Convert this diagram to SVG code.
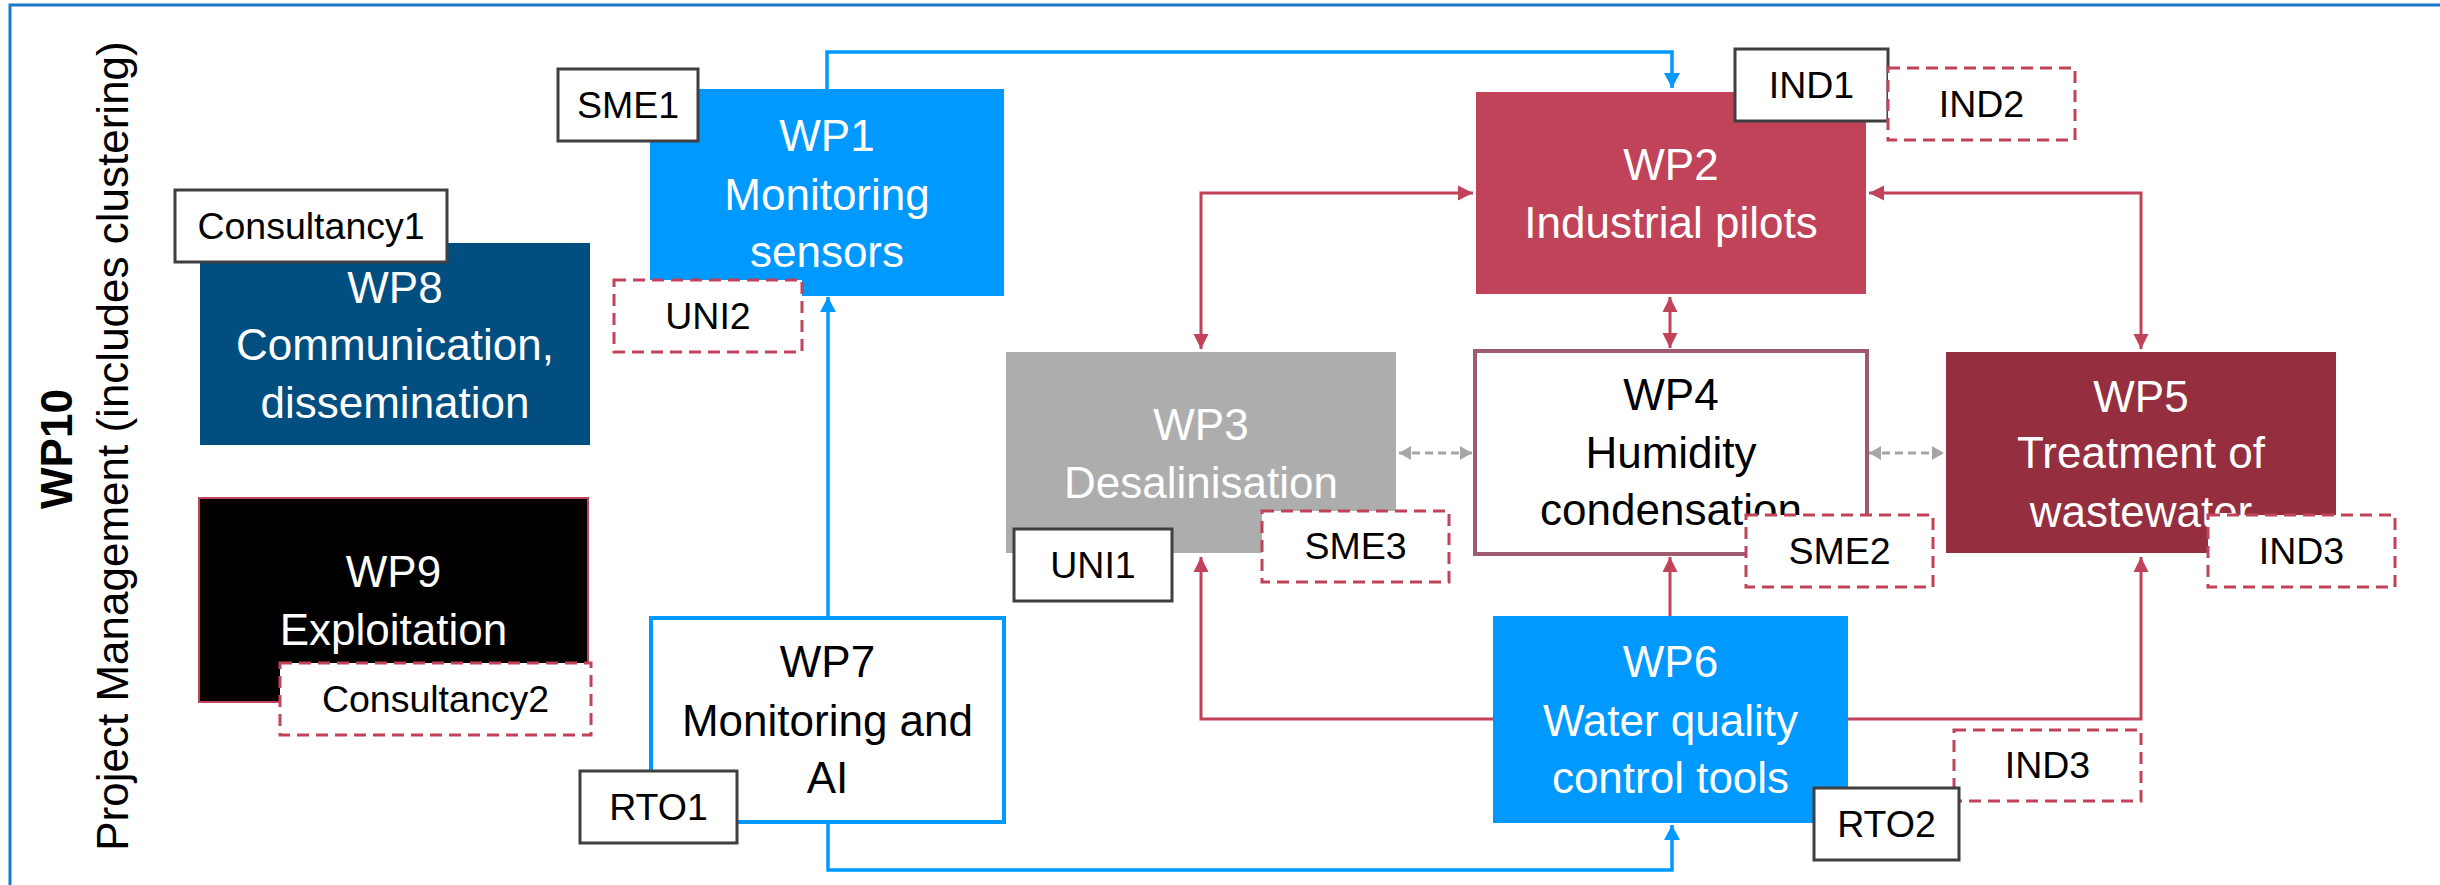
<svg xmlns="http://www.w3.org/2000/svg" width="2440" height="885" viewBox="0 0 2440 885">
<style>
  .t { font-family: "Liberation Sans", Arial, sans-serif; font-size: 44px; text-anchor: middle; }
  .w { fill: #ffffff; }
  .k { fill: #000000; }
  .lbl { font-family: "Liberation Sans", Arial, sans-serif; font-size: 37.5px; text-anchor: middle; fill: #000000; }
  .solid { fill: #ffffff; stroke: #3f3f3f; stroke-width: 3; }
  .dash { fill: #ffffff; stroke: #c0435a; stroke-width: 3; stroke-dasharray: 12 7; }
  .blue { fill: none; stroke: #0099ff; stroke-width: 3.5; }
  .red { fill: none; stroke: #c0435a; stroke-width: 3; }
  .gray { fill: none; stroke: #a6a6a6; stroke-width: 3; stroke-dasharray: 8 5; }
</style>
<defs>
  <marker id="ab" markerUnits="userSpaceOnUse" markerWidth="16" markerHeight="16" refX="15" refY="8" orient="auto-start-reverse">
    <path d="M0,0 L15,8 L0,16 z" fill="#0099ff"/>
  </marker>
  <marker id="ar" markerUnits="userSpaceOnUse" markerWidth="16" markerHeight="16" refX="15" refY="8" orient="auto-start-reverse">
    <path d="M0,0.5 L15,8 L0,15.5 z" fill="#c0435a"/>
  </marker>
  <marker id="ag" markerUnits="userSpaceOnUse" markerWidth="13" markerHeight="14" refX="12" refY="7" orient="auto-start-reverse">
    <path d="M0,0 L12,7 L0,14 z" fill="#a6a6a6"/>
  </marker>
</defs>
<rect x="0" y="0" width="2440" height="885" fill="#ffffff"/>
<path id="frame" d="M10,885 V5 H2440" fill="none" stroke="#1a78c8" stroke-width="3"/>

<g id="wp10">
  <text class="t" font-weight="bold" font-size="42" transform="translate(72,449) rotate(-90)">WP10</text>
  <text class="t" transform="translate(128,446) rotate(-90)">Project Management (includes clustering)</text>
</g>

<g id="connectors">
  <path class="blue" d="M827,89 V52 H1672 V88" marker-end="url(#ab)"/>
  <path class="blue" d="M828,616 V297" marker-end="url(#ab)"/>
  <path class="blue" d="M828,824 V870 H1672 V825" marker-end="url(#ab)"/>
  <path class="red" d="M1473,193 H1201 V349" marker-start="url(#ar)" marker-end="url(#ar)"/>
  <path class="red" d="M1869,193 H2141 V349" marker-start="url(#ar)" marker-end="url(#ar)"/>
  <path class="red" d="M1670,297 V348" marker-start="url(#ar)" marker-end="url(#ar)"/>
  <path class="red" d="M1670,616 V557" marker-end="url(#ar)"/>
  <path class="red" d="M1493,719 H1201 V557" marker-end="url(#ar)"/>
  <path class="red" d="M1848,719 H2141 V557" marker-end="url(#ar)"/>
  <path class="gray" d="M1399,453 H1472" marker-start="url(#ag)" marker-end="url(#ag)"/>
  <path class="gray" d="M1869,453 H1944" marker-start="url(#ag)" marker-end="url(#ag)"/>
</g>

<g id="wp1">
  <rect x="650" y="89" width="354" height="207" fill="#0099ff"/>
  <text class="t w" x="827" y="151">WP1</text>
  <text class="t w" x="827" y="210">Monitoring</text>
  <text class="t w" x="827" y="267">sensors</text>
</g>
<g id="wp8">
  <rect x="200" y="243" width="390" height="202" fill="#024e80"/>
  <text class="t w" x="395" y="303">WP8</text>
  <text class="t w" x="395" y="360">Communication,</text>
  <text class="t w" x="395" y="418">dissemination</text>
</g>
<g id="wp9">
  <rect x="199" y="498" width="389" height="204" fill="#000000" stroke="#c0435a" stroke-width="2"/>
  <text class="t w" x="393.5" y="587">WP9</text>
  <text class="t w" x="393.5" y="645">Exploitation</text>
</g>
<g id="wp7">
  <rect x="651" y="618" width="353" height="204" fill="#ffffff" stroke="#0099ff" stroke-width="4"/>
  <text class="t k" x="827.5" y="677">WP7</text>
  <text class="t k" x="827.5" y="736">Monitoring and</text>
  <text class="t k" x="827.5" y="793">AI</text>
</g>
<g id="wp2">
  <rect x="1476" y="92" width="390" height="202" fill="#c0435a"/>
  <text class="t w" x="1671" y="180">WP2</text>
  <text class="t w" x="1671" y="238">Industrial pilots</text>
</g>
<g id="wp3">
  <rect x="1006" y="352" width="390" height="201" fill="#adadad"/>
  <text class="t w" x="1201" y="440">WP3</text>
  <text class="t w" x="1201" y="498">Desalinisation</text>
</g>
<g id="wp4">
  <rect x="1475" y="351" width="392" height="203" fill="#ffffff" stroke="#9e5a6e" stroke-width="4"/>
  <text class="t k" x="1671" y="410">WP4</text>
  <text class="t k" x="1671" y="468">Humidity</text>
  <text class="t k" x="1671" y="525">condensation</text>
</g>
<g id="wp5">
  <rect x="1946" y="352" width="390" height="201" fill="#952f3f"/>
  <text class="t w" x="2141" y="412">WP5</text>
  <text class="t w" x="2141" y="468">Treatment of</text>
  <text class="t w" x="2141" y="527">wastewater</text>
</g>
<g id="wp6">
  <rect x="1493" y="616" width="355" height="207" fill="#0099ff"/>
  <text class="t w" x="1670.5" y="677">WP6</text>
  <text class="t w" x="1670.5" y="736">Water quality</text>
  <text class="t w" x="1670.5" y="793">control tools</text>
</g>

<g id="sme1"><rect class="solid" x="558" y="69" width="140" height="72"/><text class="lbl" x="628" y="118">SME1</text></g>
<g id="uni2"><rect class="dash" x="614" y="280" width="188" height="72"/><text class="lbl" x="708" y="329">UNI2</text></g>
<g id="consultancy1"><rect class="solid" x="175" y="190" width="272" height="72"/><text class="lbl" x="311" y="239">Consultancy1</text></g>
<g id="consultancy2"><rect class="dash" x="280" y="663" width="311" height="72"/><text class="lbl" x="435.5" y="712">Consultancy2</text></g>
<g id="rto1"><rect class="solid" x="580" y="771" width="157" height="72"/><text class="lbl" x="658.5" y="820">RTO1</text></g>
<g id="ind1"><rect class="solid" x="1735" y="49" width="153" height="72"/><text class="lbl" x="1811.5" y="98">IND1</text></g>
<g id="ind2"><rect class="dash" x="1888" y="68" width="187" height="72"/><text class="lbl" x="1981.5" y="117">IND2</text></g>
<g id="uni1"><rect class="solid" x="1014" y="529" width="158" height="72"/><text class="lbl" x="1093" y="578">UNI1</text></g>
<g id="sme3"><rect class="dash" x="1262" y="511" width="187" height="71"/><text class="lbl" x="1355.5" y="559">SME3</text></g>
<g id="sme2"><rect class="dash" x="1746" y="515" width="187" height="72"/><text class="lbl" x="1839.5" y="564">SME2</text></g>
<g id="ind3a"><rect class="dash" x="2208" y="515" width="187" height="72"/><text class="lbl" x="2301.5" y="564">IND3</text></g>
<g id="ind3b"><rect class="dash" x="1954" y="730" width="187" height="71"/><text class="lbl" x="2047.5" y="778">IND3</text></g>
<g id="rto2"><rect class="solid" x="1814" y="788" width="145" height="72"/><text class="lbl" x="1886.5" y="837">RTO2</text></g>
</svg>
